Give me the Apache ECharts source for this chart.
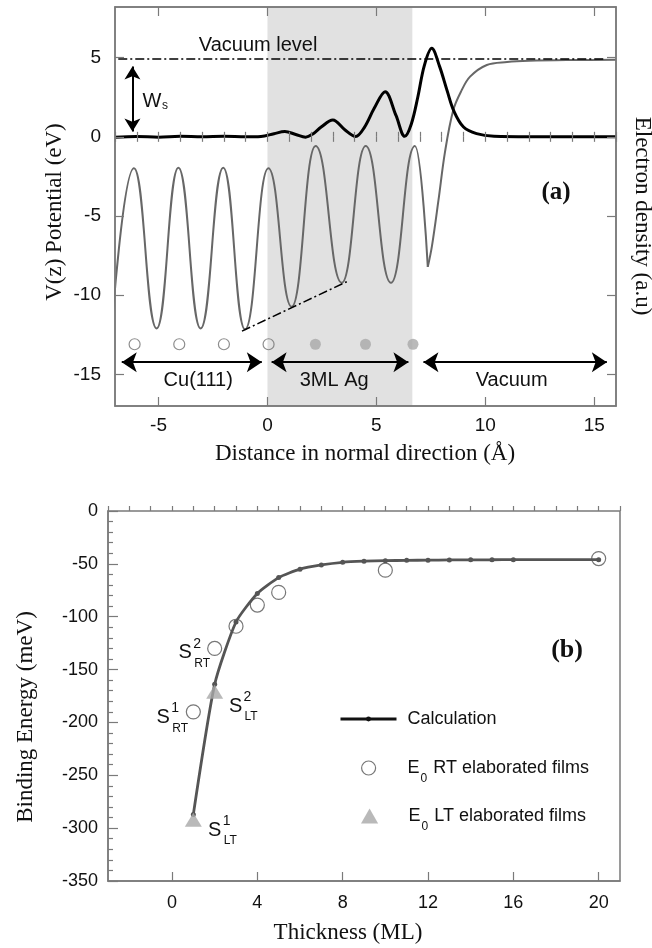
<!DOCTYPE html>
<html><head><meta charset="utf-8">
<script src="https://cdn.jsdelivr.net/npm/echarts@6/dist/echarts.min.js"></script>
<style>html,body{margin:0;padding:0;background:#fff}#c{width:652px;height:948px}</style>
</head><body><div id="c"></div>
<script>
// ---------- Panel (a) data ----------
const aXTicks = [-5, 0, 5, 10, 15];
const aYTicks = [-15, -10, -5, 0, 5];
// potential V(z): oscillating part (maxima / minima)
const potOscX = [-7.15, -6.13, -5.09, -4.09, -3.07, -2.03, -1.03, 0.04, 1.11, 2.21, 3.41, 4.51, 5.67, 6.77, 7.36];
const potOscY = [-12.1, -1.99, -12.1, -1.95, -12.1, -1.95, -12.16, -1.99, -10.73, -0.58, -9.22, -0.58, -9.22, -0.58, -8.21];
// potential V(z): rise to vacuum level
const potVacX = [7.36, 7.55, 7.85, 8.15, 8.53, 8.9, 9.3, 10.07, 11.0, 12.0, 14.0, 16.0];
const potVacY = [-8.21, -6.9, -4.0, -0.95, 1.69, 2.9, 3.8, 4.54, 4.72, 4.8, 4.85, 4.87];
// electron density
const densX = [-7, -6, -5, -4, -3, -2, -1, -0.3, 0.3, 0.8, 1.3, 1.75, 2.1, 2.45, 3.0, 3.55, 4.05, 4.45, 4.9, 5.4, 5.9, 6.3, 6.6, 6.9, 7.2, 7.54, 7.9, 8.25, 8.55, 9.0, 9.6, 10.4, 12, 16];
const densY = [-0.03, 0.02, -0.02, 0.03, 0, 0.04, 0, 0.02, 0.2, 0.33, 0.15, -0.02, 0.2, 0.6, 1.06, 0.45, 0.02, 0.6, 1.8, 2.85, 1.35, 0.03, 0.8, 2.5, 4.5, 5.59, 4.45, 2.9, 1.65, 0.62, 0.2, 0.03, 0, 0];
const vacuumLevel = 4.95;
const vacuumLineX = [-6.85, 15.5];
const wsArrowY = [0.33, 4.45];
const wsArrowX = -6.2;
const troughLineX = [-1.17, 3.64];
const troughLineY = [-12.27, -9.15];
const cuAtoms = [-6.1, -4.05, -2.0, 0.05];
const agAtoms = [2.2, 4.5, 6.68];
const atomRowY = -13.1;
const agFilmEnd = 6.65;
const layerArrowY = -14.23;
const cuArrowX = [-6.69, -0.26];
const agArrowX = [0.19, 6.47];
const vacArrowX = [7.16, 15.58];

// ---------- Panel (b) data ----------
const bXTicks = [0, 4, 8, 12, 16, 20];
const calcThickness = [1, 2, 3, 4, 5, 6, 7, 8, 9, 10, 11, 12, 13, 14, 15, 16, 20];
const calcEnergy = [-287, -164, -105, -78, -63, -55, -51, -48.5, -47.5, -47, -46.7, -46.5, -46.3, -46.2, -46.1, -46, -46];
const rtThickness = [1, 2, 3, 4, 5, 10, 20];
const rtEnergy = [-190, -130, -109, -89, -77, -56, -45];
const ltThickness = [1, 2];
const ltEnergy = [-292, -171];

const zip = (a, b) => a.map((v, i) => [v, b[i]]);

const SANS = '"Liberation Sans", Arial, Helvetica, sans-serif';
const SERIF = '"Liberation Serif", "Times New Roman", serif';
const AX = '#7a7a7a';
const TXT = '#111';

const chart = echarts.init(document.getElementById('c'));

function axisBase(extra) {
  return Object.assign({
    type: 'value', z: 10, splitLine: { show: false },
    axisLine: { show: true, onZero: false, lineStyle: { color: AX, width: 1.5 } }
  }, extra);
}
const tickStyle = { color: AX, width: 1.2 };

const legendRich = {
  m: { fontSize: 18, fontFamily: SANS, color: TXT, lineHeight: 34, verticalAlign: 'middle' },
  s: { fontSize: 12, fontFamily: SANS, color: TXT, lineHeight: 12, verticalAlign: 'bottom', padding: [0, 1, 0, 1] }
};
const legendFmt = n => n.indexOf('E0') === 0 ? '{m|E}{s|0}{m|' + n.slice(2) + '}' : '{m|' + n + '}';
function legendItem(left, top, h, item) {
  return { orient: 'vertical', left: left, top: top, itemWidth: 56, itemHeight: h, selectedMode: false,
    data: [item], formatter: legendFmt, textStyle: { rich: legendRich, padding: [0, 0, 0, 6] } };
}

const option = {
  animation: false,
  backgroundColor: '#fff',
  grid: [
    { left: 115, top: 7, width: 501, height: 399, show: true, borderColor: AX, borderWidth: 1.5, z: 10 },
    { left: 108, top: 511, width: 512, height: 370, show: true, borderColor: AX, borderWidth: 1.5, z: 10 }
  ],
  xAxis: [
    axisBase({ gridIndex: 0, min: -7, max: 16, position: 'bottom',
      axisTick: { inside: true, length: 9, customValues: aXTicks, lineStyle: tickStyle },
      axisLabel: { customValues: aXTicks, fontSize: 19, margin: 10, color: TXT, fontFamily: SANS } }),
    axisBase({ gridIndex: 0, min: -7, max: 16, interval: 1, position: 'bottom', axisLine: { show: false },
      axisTick: { inside: true, length: 5, lineStyle: tickStyle }, axisLabel: { show: false } }),
    axisBase({ gridIndex: 0, min: -7, max: 16, position: 'top',
      axisTick: { inside: true, length: 9, customValues: aXTicks, lineStyle: tickStyle }, axisLabel: { show: false } }),
    axisBase({ gridIndex: 0, min: -7, max: 16, interval: 1, position: 'top', axisLine: { show: false },
      axisTick: { inside: true, length: 5, lineStyle: tickStyle }, axisLabel: { show: false } }),
    axisBase({ gridIndex: 1, min: -3, max: 21, position: 'bottom',
      axisTick: { inside: true, length: 9, customValues: bXTicks, lineStyle: tickStyle },
      axisLabel: { customValues: bXTicks, fontSize: 18, margin: 13, color: TXT, fontFamily: SANS } }),
    axisBase({ gridIndex: 1, min: -3, max: 21, interval: 1, position: 'bottom', axisLine: { show: false },
      axisTick: { inside: true, length: 5, lineStyle: tickStyle }, axisLabel: { show: false } })
  ],
  yAxis: [
    axisBase({ gridIndex: 0, min: -17, max: 8.2, position: 'left',
      axisTick: { inside: true, length: 9, customValues: aYTicks, lineStyle: tickStyle },
      axisLabel: { customValues: aYTicks, fontSize: 19, margin: 14, color: TXT, fontFamily: SANS } }),
    axisBase({ gridIndex: 0, min: -17, max: 8.2, position: 'right',
      axisTick: { inside: true, length: 9, customValues: aYTicks, lineStyle: tickStyle }, axisLabel: { show: false } }),
    axisBase({ gridIndex: 1, min: -350, max: 0, interval: 50, position: 'left',
      axisTick: { inside: true, length: 10, lineStyle: tickStyle },
      minorTick: { show: true, splitNumber: 5, length: 5, lineStyle: tickStyle },
      axisLabel: { fontSize: 18, margin: 10, color: TXT, fontFamily: SANS } })
  ],
  legend: [
    legendItem(334, 705, 6, { name: 'Calculation', itemStyle: { color: '#111' }, lineStyle: { color: '#111', width: 3 } }),
    legendItem(356, 754, 14, { name: 'E0 RT elaborated films', icon: 'circle', itemStyle: { color: 'transparent', borderColor: '#555', borderWidth: 1.2 } }),
    legendItem(356, 802, 15, { name: 'E0 LT elaborated films', icon: 'path://M8,0 L16,14 L0,14 Z', itemStyle: { color: '#a8a8a8' } })
  ],
  series: [
    // shaded 3ML Ag film
    { type: 'line', xAxisIndex: 0, yAxisIndex: 0, data: [], z: 1, silent: true,
      markArea: { silent: true, itemStyle: { color: '#e1e1e1' }, data: [[{ xAxis: 0 }, { xAxis: agFilmEnd }]] } },
    { type: 'line', name: 'V(z) osc', xAxisIndex: 0, yAxisIndex: 0, data: zip(potOscX, potOscY),
      smooth: 0.47, smoothMonotone: 'x', symbol: 'none', lineStyle: { color: '#676767', width: 2 }, z: 3, silent: true },
    { type: 'line', name: 'V(z) vac', xAxisIndex: 0, yAxisIndex: 0, data: zip(potVacX, potVacY),
      smooth: 0.35, symbol: 'none', lineStyle: { color: '#676767', width: 2 }, z: 3, silent: true },
    { type: 'line', name: 'density', xAxisIndex: 0, yAxisIndex: 0, data: zip(densX, densY),
      smooth: 0.35, symbol: 'none', lineStyle: { color: '#000', width: 3 }, z: 4, silent: true },
    // dash-dot guides
    { type: 'line', xAxisIndex: 0, yAxisIndex: 0, data: [], z: 5, silent: true,
      markLine: { silent: true, symbol: ['none', 'none'], label: { show: false }, emphasis: { disabled: true },
        lineStyle: { color: '#000', width: 1.5, type: [9, 3, 2, 3] },
        data: [
          [{ coord: [vacuumLineX[0], vacuumLevel] }, { coord: [vacuumLineX[1], vacuumLevel] }],
          [{ coord: [troughLineX[0], troughLineY[0]] }, { coord: [troughLineX[1], troughLineY[1]] }]
        ] } },
    // layer arrows
    { type: 'line', xAxisIndex: 0, yAxisIndex: 0, data: [], z: 5, silent: true,
      markLine: { silent: true, symbol: ['arrow', 'arrow'], symbolSize: [15, 15], label: { show: false }, emphasis: { disabled: true },
        lineStyle: { color: '#000', width: 2, type: 'solid' },
        data: [
          [{ coord: [cuArrowX[0], layerArrowY] }, { coord: [cuArrowX[1], layerArrowY] }],
          [{ coord: [agArrowX[0], layerArrowY] }, { coord: [agArrowX[1], layerArrowY] }],
          [{ coord: [vacArrowX[0], layerArrowY] }, { coord: [vacArrowX[1], layerArrowY] }]
        ] } },
    // Ws arrow
    { type: 'line', xAxisIndex: 0, yAxisIndex: 0, data: [], z: 5, silent: true,
      markLine: { silent: true, symbol: ['arrow', 'arrow'], symbolSize: [12, 13], label: { show: false }, emphasis: { disabled: true },
        lineStyle: { color: '#000', width: 2, type: 'solid' },
        data: [[{ coord: [wsArrowX, wsArrowY[0]] }, { coord: [wsArrowX, wsArrowY[1]] }]] } },
    { type: 'scatter', xAxisIndex: 0, yAxisIndex: 0, data: cuAtoms.map(x => [x, atomRowY]), symbol: 'circle', symbolSize: 11,
      itemStyle: { color: 'transparent', borderColor: '#707070', borderWidth: 1.2 }, z: 5, silent: true },
    { type: 'scatter', xAxisIndex: 0, yAxisIndex: 0, data: agAtoms.map(x => [x, atomRowY]), symbol: 'circle', symbolSize: 11,
      itemStyle: { color: '#a9a9a9' }, z: 5, silent: true },
    // panel (b)
    { type: 'line', name: 'Calculation', xAxisIndex: 4, yAxisIndex: 2, data: zip(calcThickness, calcEnergy),
      smooth: 0.2, symbol: 'circle', symbolSize: 5, itemStyle: { color: '#555' }, lineStyle: { color: '#555', width: 2.8 }, z: 3, silent: true },
    { type: 'scatter', name: 'E0 RT elaborated films', xAxisIndex: 4, yAxisIndex: 2, data: zip(rtThickness, rtEnergy),
      symbol: 'circle', symbolSize: 14, itemStyle: { color: 'transparent', borderColor: '#555', borderWidth: 1.2 }, z: 4, silent: true },
    { type: 'scatter', name: 'E0 LT elaborated films', xAxisIndex: 4, yAxisIndex: 2, data: zip(ltThickness, ltEnergy),
      symbol: 'triangle', symbolSize: [17, 14], itemStyle: { color: '#a8a8a8' }, z: 5, silent: true }
  ]
};
chart.setOption(option);

// ---------- annotations ----------
const annA = [
  { text: 'Vacuum level', x: -0.43, y: 5.8 },
  { text: 'Cu(111)', x: -3.18, y: -15.4 },
  { text: '3ML Ag', x: 3.06, y: -15.4 },
  { text: 'Vacuum', x: 11.21, y: -15.4 }
];
const wsLabel = { x: -5.3, y: 2.26 };
const panelA = { x: 13.25, y: -3.55 };
const panelB = { x: 18.52, y: -131.5 };
const sLabels = [
  { x: 0.62, y: -134.3, sup: '2', sub: 'RT' },
  { x: -0.41, y: -195.3, sup: '1', sub: 'RT' },
  { x: 2.98, y: -184.5, sup: '2', sub: 'LT' },
  { x: 2.0, y: -301.8, sup: '1', sub: 'LT' }
];

const pa = (x, y) => chart.convertToPixel({ xAxisIndex: 0, yAxisIndex: 0 }, [x, y]);
const pb = (x, y) => chart.convertToPixel({ xAxisIndex: 4, yAxisIndex: 2 }, [x, y]);
const g = [];
function txt(x, y, text, size, family, extra, rot) {
  g.push({ type: 'text', x: x, y: y, z: 100, rotation: rot || 0, silent: true,
    style: Object.assign({ text: text, fontSize: size, fontFamily: family, fill: TXT, align: 'center', verticalAlign: 'middle' }, extra || {}) });
}
annA.forEach(a => { const p = pa(a.x, a.y); txt(p[0], p[1], a.text, 20, SANS); });
{ const p = pa(wsLabel.x, wsLabel.y); txt(p[0], p[1], 'W', 20, SANS); txt(p[0] + 10, p[1] + 5, 's', 12, SANS, { align: 'left' }); }
{ const p = pa(panelA.x, panelA.y); txt(p[0], p[1], '(a)', 25, SERIF, { fontWeight: 'bold' }); }
{ const p = pb(panelB.x, panelB.y); txt(p[0], p[1], '(b)', 26, SERIF, { fontWeight: 'bold' }); }
sLabels.forEach(s => {
  const p = pb(s.x, s.y);
  txt(p[0], p[1], 'S', 20, SANS);
  txt(p[0] + 8, p[1] - 9, s.sup, 14, SANS, { align: 'left' });
  txt(p[0] + 9, p[1] + 11, s.sub, 12, SANS, { align: 'left' });
});
// axis titles
txt(365, 454, 'Distance in normal direction (Å)', 23, SERIF);
txt(55, 212, 'V(z) Potential (eV)', 23, SERIF, null, Math.PI / 2);
txt(642, 216, 'Electron density (a.u)', 23, SERIF, null, -Math.PI / 2);
txt(348, 933, 'Thickness (ML)', 23, SERIF);
txt(26, 717, 'Binding Energy (meV)', 23, SERIF, null, Math.PI / 2);
chart.setOption({ graphic: g });
</script>
</body></html>
